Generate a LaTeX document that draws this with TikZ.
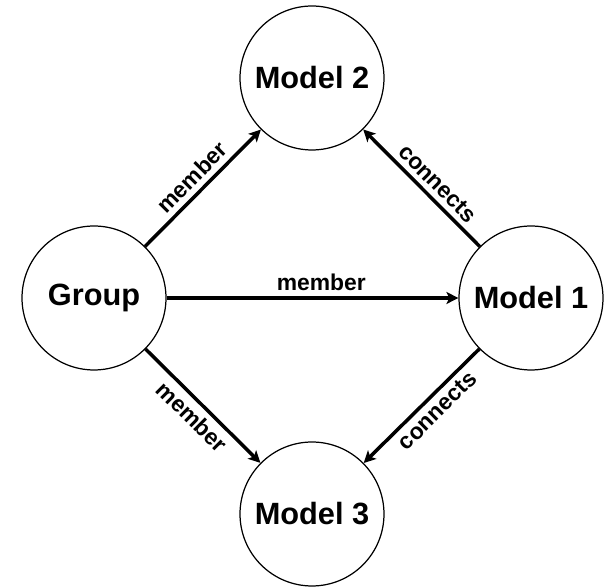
\documentclass[tikz,border=0pt]{standalone}
\usepackage{fontspec}
\setmainfont{Liberation Sans}
\usepackage{tikz}
\usetikzlibrary{arrows.meta}
\tikzset{
model/.style={
draw=black,
fill=white,
circle,
line width=0.7pt,
minimum size=2.88cm,
inner sep=0pt,
font=\fontsize{17.5}{19}\selectfont\bfseries
},
rel/.style={
-{Stealth[length=2.4mm,width=2.4mm,inset=0.6mm]},
line width=2pt,
draw=black
},
rellabel/.style={
font=\fontsize{13}{15}\selectfont\bfseries,
sloped,
inner sep=3pt
}
}

\begin{document}
\begin{tikzpicture}[x=0.02cm,y=0.02cm]
\useasboundingbox (0,0) rectangle (605,587);

\node[model] (group) at (94,289) {Group};
\node[model] (model1) at (531,289) {Model 1};
\node[model] (model2) at (312,509) {Model 2};
\node[model] (model3) at (312,73) {Model 3};

\draw[rel] (group) -- node[rellabel, above, pos=0.53] {member} (model1);
\draw[rel] (group) -- node[rellabel, above] {member} (model2);
\draw[rel] (group) -- node[rellabel, below] {member} (model3);
\draw[rel] (model1) -- node[rellabel, above, pos=0.45] {connects} (model2);
\draw[rel] (model1) -- node[rellabel, below, pos=0.45] {connects} (model3);

\end{tikzpicture}
\end{document}
